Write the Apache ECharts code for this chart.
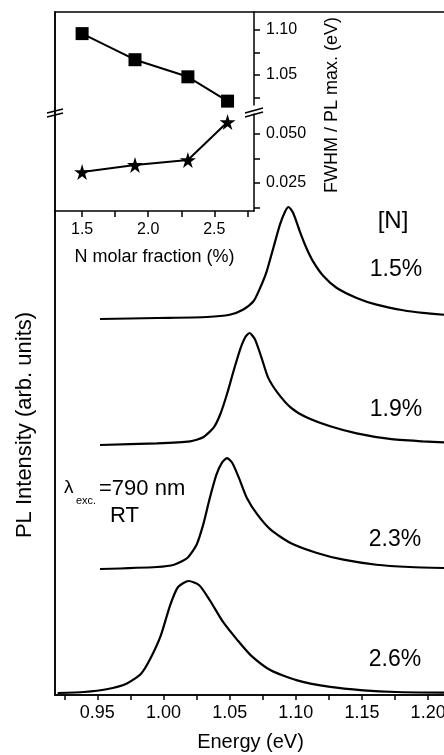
<!DOCTYPE html>
<html style="height: 100%">
<head>
    <meta charset="utf-8">
</head>
<body style="height: 100%; margin: 0; background: #fff">
    <div id="container" style="width: 444px; height: 755px"></div>

    <script type="text/javascript" src="https://cdn.jsdelivr.net/npm/echarts@6.0.0/dist/echarts.min.js"></script>
    <script type="text/javascript">
        // PL spectra (energy in eV, normalised intensity)
        var energy15 = [0.952, 0.995, 1.033, 1.050, 1.060, 1.068, 1.073, 1.078, 1.083, 1.088, 1.092, 1.0945, 1.098, 1.103, 1.108, 1.113, 1.121, 1.131, 1.146, 1.161, 1.181, 1.196, 1.212];
        var pl15     = [0, 0.009, 0.018, 0.038, 0.083, 0.158, 0.277, 0.426, 0.634, 0.842, 0.962, 1.0, 0.946, 0.783, 0.634, 0.515, 0.381, 0.277, 0.188, 0.128, 0.078, 0.054, 0.038];
        var energy19 = [0.952, 0.995, 1.020, 1.030, 1.038, 1.043, 1.048, 1.053, 1.058, 1.062, 1.065, 1.069, 1.074, 1.079, 1.086, 1.096, 1.108, 1.126, 1.146, 1.171, 1.196, 1.212];
        var pl19     = [0, 0.015, 0.033, 0.069, 0.158, 0.277, 0.455, 0.663, 0.857, 0.967, 1.0, 0.946, 0.783, 0.604, 0.470, 0.336, 0.247, 0.167, 0.104, 0.054, 0.033, 0.024];
        var energy23 = [0.952, 0.995, 1.008, 1.018, 1.025, 1.030, 1.035, 1.040, 1.044, 1.048, 1.052, 1.057, 1.063, 1.071, 1.081, 1.096, 1.116, 1.136, 1.161, 1.186, 1.212];
        var pl23     = [0, 0.018, 0.038, 0.098, 0.217, 0.396, 0.634, 0.842, 0.946, 0.99, 0.946, 0.813, 0.634, 0.485, 0.351, 0.232, 0.143, 0.083, 0.038, 0.018, 0.009];
        var energy26 = [0.920, 0.940, 0.957, 0.972, 0.983, 0.990, 0.998, 1.005, 1.011, 1.019, 1.027, 1.035, 1.045, 1.056, 1.066, 1.081, 1.101, 1.126, 1.151, 1.176, 1.212];
        var pl26     = [0, 0.009, 0.033, 0.083, 0.172, 0.306, 0.515, 0.783, 0.946, 1.0, 0.962, 0.828, 0.634, 0.470, 0.336, 0.203, 0.113, 0.054, 0.024, 0.009, 0.003];
        var spectraOffsets = [3.357, 2.232, 1.125, 0.018];
        var spectraNames = ['1.5%', '1.9%', '2.3%', '2.6%'];

        // inset: PL max and FWHM vs N fraction
        var nFraction = [1.5, 1.9, 2.3, 2.6];
        var plMax = [1.096, 1.067, 1.048, 1.021];
        var fwhm = [0.0306, 0.0342, 0.0367, 0.0561];

        // tick values
        var energyTicks = [0.925, 0.95, 0.975, 1.0, 1.025, 1.05, 1.075, 1.1, 1.125, 1.15, 1.175, 1.2];
        var energyLabels = [0.95, 1.0, 1.05, 1.1, 1.15, 1.2];
        var nTicks = [1.5, 1.75, 2.0, 2.25, 2.5, 2.75];
        var nLabels = [1.5, 2.0, 2.5];
        var plMaxTicks = [1.025, 1.05, 1.075, 1.1];
        var plMaxLabels = [1.05, 1.1];
        var fwhmTicks = [0.0125, 0.025, 0.0375, 0.05];
        var fwhmLabels = [0.025, 0.05];

        var font = 'Liberation Sans, Arial, sans-serif';
        var ink = '#000';
        var starPath = 'path://M50,0 L61,35 L98,35 L68,57 L79,91 L50,70 L21,91 L32,57 L2,35 L39,35 Z';

        function pairs(xs, ys, off) {
            return xs.map(function (x, i) { return [x, ys[i] + (off || 0)]; });
        }

        var dom = document.getElementById("container");
        var myChart = echarts.init(dom, null, { renderer: 'canvas' });

        var spectraX = [energy15, energy19, energy23, energy26];
        var spectraY = [pl15, pl19, pl23, pl26];
        var spectraSeries = spectraX.map(function (xs, k) {
            return {
                name: spectraNames[k],
                type: 'line',
                xAxisIndex: 0,
                yAxisIndex: 0,
                data: pairs(xs, spectraY[k], spectraOffsets[k]),
                showSymbol: false,
                smooth: 0.22,
                lineStyle: { color: ink, width: 2.2 },
                silent: true
            };
        });

        var axisLine = { show: true, lineStyle: { color: ink, width: 1.5 } };

        var option = {
            animation: false,
            backgroundColor: '#fff',
            textStyle: { fontFamily: font, color: ink },
            grid: [
                { left: 55, top: 12, width: 391, height: 683, show: true, borderColor: ink, borderWidth: 1.5, outerBoundsMode: 'none', containLabel: false },
                { left: 55, top: 12, width: 199, height: 93, outerBoundsMode: 'none', containLabel: false },
                { left: 55, top: 114, width: 199, height: 97, outerBoundsMode: 'none', containLabel: false }
            ],
            xAxis: [
                {
                    gridIndex: 0, type: 'value', min: 0.918, max: 1.2135,
                    axisLine: axisLine,
                    axisTick: { show: true, length: 5, lineStyle: { color: ink, width: 1.5 }, customValues: energyTicks },
                    axisLabel: { customValues: energyLabels, color: ink, fontSize: 18, fontFamily: font, margin: 9,
                        formatter: function (v) { return v.toFixed(2); } },
                    splitLine: { show: false },
                    name: 'Energy (eV)', nameLocation: 'middle', nameGap: 37,
                    nameTextStyle: { fontSize: 20, fontFamily: font, color: ink }
                },
                { gridIndex: 1, type: 'value', min: 1.295, max: 2.8, show: false },
                {
                    gridIndex: 2, type: 'value', min: 1.295, max: 2.8,
                    axisLine: axisLine,
                    axisTick: { show: true, length: 6, lineStyle: { color: ink, width: 1.5 }, customValues: nTicks },
                    axisLabel: { customValues: nLabels, color: ink, fontSize: 16, fontFamily: font, margin: 11,
                        formatter: function (v) { return v.toFixed(1); } },
                    splitLine: { show: false },
                    name: 'N molar fraction (%)', nameLocation: 'middle', nameGap: 37,
                    nameTextStyle: { fontSize: 18, fontFamily: font, color: ink }
                }
            ],
            yAxis: [
                {
                    gridIndex: 0, type: 'value', min: 0, max: 6.098,
                    axisLine: axisLine, axisTick: { show: false }, axisLabel: { show: false },
                    splitLine: { show: false }
                },
                {
                    gridIndex: 1, type: 'value', position: 'right', min: 1.0167, max: 1.12,
                    axisLine: axisLine,
                    axisTick: { show: true, length: 6, lineStyle: { color: ink, width: 1.5 }, customValues: plMaxTicks },
                    axisLabel: { customValues: plMaxLabels, color: ink, fontSize: 16, fontFamily: font, margin: 12,
                        formatter: function (v) { return v.toFixed(2); } },
                    splitLine: { show: false }
                },
                {
                    gridIndex: 2, type: 'value', position: 'right', min: 0.0107, max: 0.0602,
                    axisLine: axisLine,
                    axisTick: { show: true, length: 6, lineStyle: { color: ink, width: 1.5 }, customValues: fwhmTicks },
                    axisLabel: { customValues: fwhmLabels, color: ink, fontSize: 16, fontFamily: font, margin: 12,
                        formatter: function (v) { return v.toFixed(3); } },
                    splitLine: { show: false }
                }
            ],
            series: spectraSeries.concat([
                {
                    name: 'PL max', type: 'line', xAxisIndex: 1, yAxisIndex: 1,
                    data: pairs(nFraction, plMax),
                    symbol: 'rect', symbolSize: 13, clip: false,
                    lineStyle: { color: ink, width: 2 },
                    itemStyle: { color: ink, borderWidth: 0 }
                },
                {
                    name: 'FWHM', type: 'line', xAxisIndex: 2, yAxisIndex: 2,
                    data: pairs(nFraction, fwhm),
                    symbol: starPath, symbolSize: 16, clip: false,
                    lineStyle: { color: ink, width: 2 },
                    itemStyle: { color: ink, borderWidth: 0 }
                }
            ]),
            graphic: [
                { type: 'text', x: 25, y: 425, rotation: Math.PI / 2, z: 100,
                  style: { text: 'PL Intensity (arb. units)', fontSize: 22, fontFamily: font, fill: ink, align: 'center', verticalAlign: 'middle' } },
                { type: 'text', x: 332, y: 105, rotation: Math.PI / 2, z: 100,
                  style: { text: 'FWHM / PL max. (eV)', fontSize: 18, fontFamily: font, fill: ink, align: 'center', verticalAlign: 'middle' } },
                { type: 'text', x: 393, y: 221, z: 100,
                  style: { text: '[N]', fontSize: 24, fontFamily: font, fill: ink, align: 'center', verticalAlign: 'middle' } },
                { type: 'text', x: 396, y: 270, z: 100,
                  style: { text: spectraNames[0], fontSize: 23, fontFamily: font, fill: ink, align: 'center', verticalAlign: 'middle' } },
                { type: 'text', x: 396, y: 410, z: 100,
                  style: { text: spectraNames[1], fontSize: 23, fontFamily: font, fill: ink, align: 'center', verticalAlign: 'middle' } },
                { type: 'text', x: 395, y: 540, z: 100,
                  style: { text: spectraNames[2], fontSize: 23, fontFamily: font, fill: ink, align: 'center', verticalAlign: 'middle' } },
                { type: 'text', x: 395, y: 660, z: 100,
                  style: { text: spectraNames[3], fontSize: 23, fontFamily: font, fill: ink, align: 'center', verticalAlign: 'middle' } },
                { type: 'text', x: 64, y: 488, z: 100,
                  style: { text: 'λ', fontSize: 19, fontFamily: font, fill: ink, align: 'left', verticalAlign: 'middle' } },
                { type: 'text', x: 76, y: 501, z: 100,
                  style: { text: 'exc.', fontSize: 11, fontFamily: font, fill: ink, align: 'left', verticalAlign: 'middle' } },
                { type: 'text', x: 99, y: 489, z: 100,
                  style: { text: '=790 nm', fontSize: 22, fontFamily: font, fill: ink, align: 'left', verticalAlign: 'middle' } },
                { type: 'text', x: 110, y: 516, z: 100,
                  style: { text: 'RT', fontSize: 22, fontFamily: font, fill: ink, align: 'left', verticalAlign: 'middle' } },
                // axis break marks
                { type: 'line', z: 100, shape: { x1: 47, y1: 113, x2: 63, y2: 109 }, style: { stroke: ink, lineWidth: 1.5 } },
                { type: 'line', z: 100, shape: { x1: 47, y1: 117, x2: 63, y2: 113 }, style: { stroke: ink, lineWidth: 1.5 } },
                { type: 'line', z: 100, shape: { x1: 245, y1: 113, x2: 263, y2: 108 }, style: { stroke: ink, lineWidth: 1.5 } },
                { type: 'line', z: 100, shape: { x1: 245, y1: 117, x2: 263, y2: 112 }, style: { stroke: ink, lineWidth: 1.5 } }
            ]
        };

        myChart.setOption(option);
    </script>
</body>
</html>
